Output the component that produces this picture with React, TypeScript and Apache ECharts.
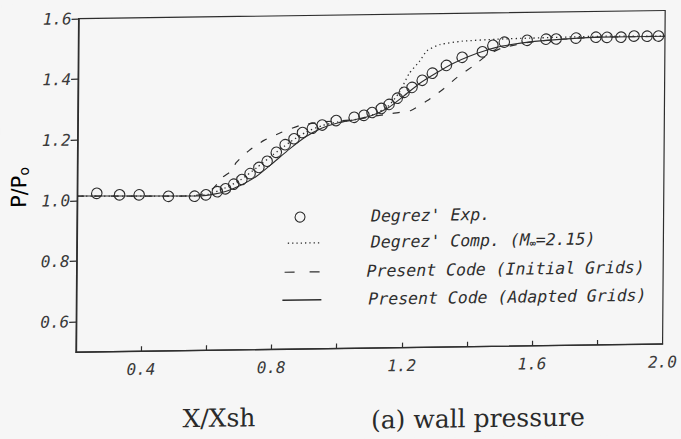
import React, { useEffect, useRef } from "react";
import * as echarts from "echarts";

// Degrez' experiment (circles)
const expX = [0.26, 0.33, 0.39, 0.48, 0.56, 0.595, 0.63, 0.655, 0.68, 0.705, 0.73, 0.757, 0.782, 0.81, 0.837, 0.864, 0.89, 0.92, 0.95, 0.993, 1.048, 1.078, 1.103, 1.131, 1.155, 1.18, 1.201, 1.225, 1.256, 1.287, 1.33, 1.378, 1.44, 1.472, 1.507, 1.577, 1.635, 1.666, 1.727, 1.788, 1.822, 1.865, 1.905, 1.945, 1.98];
const expY = [1.023, 1.017, 1.016, 1.01, 1.009, 1.013, 1.023, 1.032, 1.047, 1.062, 1.081, 1.101, 1.121, 1.15, 1.175, 1.194, 1.214, 1.228, 1.238, 1.252, 1.262, 1.268, 1.277, 1.29, 1.303, 1.323, 1.342, 1.358, 1.381, 1.404, 1.429, 1.455, 1.472, 1.493, 1.503, 1.508, 1.511, 1.511, 1.513, 1.515, 1.514, 1.514, 1.517, 1.516, 1.516];

// Degrez' computation (dotted)
const compX = [0.2, 0.55, 0.6, 0.65, 0.7, 0.75, 0.8, 0.85, 0.9, 0.95, 1.0, 1.05, 1.1, 1.15, 1.186, 1.216, 1.247, 1.27, 1.31, 1.378, 1.483, 1.584, 1.8, 2.0];
const compY = [1.015, 1.01, 1.014, 1.033, 1.06, 1.1, 1.142, 1.182, 1.215, 1.236, 1.248, 1.254, 1.267, 1.295, 1.342, 1.404, 1.443, 1.478, 1.498, 1.508, 1.513, 1.515, 1.518, 1.515];

// Present code, initial grids (dashed)
const initX = [0.2, 0.55, 0.6, 0.625, 0.644, 0.674, 0.687, 0.726, 0.772, 0.824, 0.88, 0.95, 1.05, 1.1, 1.164, 1.222, 1.271, 1.323, 1.363, 1.415, 1.455, 1.498, 1.6, 1.8, 2.0];
const initY = [1.015, 1.01, 1.02, 1.043, 1.069, 1.092, 1.118, 1.157, 1.19, 1.215, 1.237, 1.248, 1.254, 1.263, 1.273, 1.282, 1.313, 1.353, 1.389, 1.428, 1.461, 1.483, 1.504, 1.515, 1.515];

// Present code, adapted grids (solid)
const adaptX = [0.2, 0.58, 0.62, 0.66, 0.7, 0.75, 0.8, 0.85, 0.9, 0.95, 1.0, 1.05, 1.1, 1.15, 1.2, 1.25, 1.3, 1.35, 1.4, 1.45, 1.5, 1.6, 1.7, 1.8, 2.0];
const adaptY = [1.015, 1.01, 1.015, 1.025, 1.042, 1.072, 1.115, 1.16, 1.2, 1.228, 1.245, 1.254, 1.266, 1.29, 1.33, 1.372, 1.405, 1.435, 1.458, 1.476, 1.49, 1.504, 1.511, 1.515, 1.515];

const xTickValues = [0.4, 0.6, 0.8, 1.0, 1.2, 1.4, 1.6, 1.8];
const xLabelValues = [0.4, 0.8, 1.2, 1.6, 2.0];
const yTickValues = [0.6, 0.8, 1.0, 1.2, 1.4, 1.6];

const legendNames = [
  "Degrez' Exp.",
  "Degrez' Comp. (M",
  "Present Code (Initial Grids)",
  "Present Code (Adapted Grids)",
];

const pairs = (xs: number[], ys: number[]) => xs.map((x, i) => [x, ys[i]]);

const INK = "#2e2e2e";
const BG = "#f6f6f6";
const MONO = '"DejaVu Sans Mono", monospace';

export default function App() {
  const ref = useRef<HTMLDivElement>(null);

  useEffect(() => {
    document.body.style.margin = "0";
    document.body.style.background = BG;
    const chart = echarts.init(ref.current!, null, { renderer: "svg" });
    const legendFont = `italic 16.5px ${MONO}`;
    chart.setOption({
      animation: false,
      backgroundColor: BG,
      grid: {
        left: 77,
        right: 14.5,
        top: 15,
        bottom: 90.5,
        show: true,
        borderColor: INK,
        borderWidth: 1.2,
        backgroundColor: "transparent",
      },
      xAxis: {
        type: "value",
        min: 0.2,
        max: 2.0,
        splitLine: { show: false },
        axisLine: { show: true, lineStyle: { color: INK, width: 1.4 } },
        axisTick: {
          show: true,
          inside: true,
          length: 5,
          customValues: xTickValues,
          lineStyle: { color: INK, width: 1.2 },
        },
        axisLabel: {
          customValues: xLabelValues,
          showMaxLabel: true,
          margin: 10,
          formatter: (v: number) => v.toFixed(1),
          fontFamily: MONO,
          fontStyle: "italic",
          fontSize: 16,
          color: "#3a3a3a",
        },
      },
      yAxis: {
        type: "value",
        min: 0.5,
        max: 1.6,
        splitLine: { show: false },
        axisLine: { show: true, lineStyle: { color: INK, width: 1.4 } },
        axisTick: {
          show: true,
          inside: false,
          length: 7,
          customValues: yTickValues,
          lineStyle: { color: INK, width: 1.2 },
        },
        axisLabel: {
          customValues: yTickValues,
          showMaxLabel: true,
          margin: 7,
          formatter: (v: number) => v.toFixed(1),
          fontFamily: MONO,
          fontStyle: "italic",
          fontSize: 16,
          color: "#3a3a3a",
        },
      },
      series: [
        {
          name: legendNames[1],
          type: "line",
          data: pairs(compX, compY),
          symbol: "none",
          smooth: 0.2,
          lineStyle: { color: INK, width: 1.3, type: [1.3, 3.2] },
        },
        {
          name: legendNames[2],
          type: "line",
          data: pairs(initX, initY),
          symbol: "none",
          smooth: 0.2,
          lineStyle: { color: INK, width: 1.2, type: [7, 10] },
        },
        {
          name: legendNames[3],
          type: "line",
          data: pairs(adaptX, adaptY),
          symbol: "none",
          smooth: 0.2,
          lineStyle: { color: INK, width: 1.1 },
        },
        {
          name: legendNames[0],
          type: "scatter",
          data: pairs(expX, expY),
          symbol: "circle",
          symbolSize: 10.5,
          itemStyle: { color: "rgba(0,0,0,0)", borderColor: INK, borderWidth: 1.1, opacity: 1 },
          z: 5,
        },
      ],
      graphic: [
        // legend keys
        { type: "circle", shape: { cx: 300, cy: 216.5, r: 5 }, style: { fill: "none", stroke: INK, lineWidth: 1.1 } },
        { type: "line", shape: { x1: 288, y1: 242.5, x2: 322, y2: 242.5 }, style: { stroke: INK, lineWidth: 1.3, lineDash: [1.3, 3] } },
        { type: "line", shape: { x1: 285, y1: 271.5, x2: 321, y2: 271.5 }, style: { stroke: INK, lineWidth: 1.2, lineDash: [10, 15] } },
        { type: "line", shape: { x1: 283, y1: 299.5, x2: 322, y2: 299.5 }, style: { stroke: INK, lineWidth: 1.4 } },
        // legend texts
        { type: "text", x: 371, y: 216.5, style: { text: legendNames[0], font: legendFont, fill: INK, align: "left", verticalAlign: "middle", textAlign: "left", textVerticalAlign: "middle" } },
        {
          type: "text",
          x: 371,
          y: 242.5,
          style: {
            text: `{a|${legendNames[1]}}{s|∞}{a|=2.15)}`,
            rich: {
              a: { font: legendFont, fill: INK, color: INK },
              s: { fontFamily: MONO, fontSize: 10, fontWeight: "bold", color: INK, padding: [7, 0, 0, 0] },
            },
            fill: INK,
            align: "left",
            verticalAlign: "middle",
            textAlign: "left",
            textVerticalAlign: "middle",
          },
        },
        { type: "text", x: 367, y: 271.5, style: { text: legendNames[2], font: legendFont, fill: INK, align: "left", verticalAlign: "middle", textAlign: "left", textVerticalAlign: "middle" } },
        { type: "text", x: 369, y: 299.5, style: { text: legendNames[3], font: legendFont, fill: INK, align: "left", verticalAlign: "middle", textAlign: "left", textVerticalAlign: "middle" } },
        // y-axis title
        {
          type: "text",
          x: 19,
          y: 183,
          rotation: Math.PI / 2,
          style: {
            text: "{a|P/P}{b|o}",
            rich: {
              a: { fontFamily: '"DejaVu Sans", sans-serif', fontSize: 21, color: "#3a3a3a" },
              b: { fontFamily: '"DejaVu Sans", sans-serif', fontSize: 14, color: "#3a3a3a", padding: [9, 0, 0, 0] },
            },
            align: "center",
            verticalAlign: "middle",
            textAlign: "center",
            textVerticalAlign: "middle",
          },
        },
        // captions
        { type: "text", x: 220.5, y: 416.5, style: { text: "X/Xsh", font: '25px "DejaVu Serif", serif', fill: "#2a2a2a", align: "center", verticalAlign: "middle", textAlign: "center", textVerticalAlign: "middle" } },
        { type: "text", x: 479.5, y: 420.5, style: { text: "(a) wall pressure", font: '25px "DejaVu Serif", serif', fill: "#2a2a2a", align: "center", verticalAlign: "middle", textAlign: "center", textVerticalAlign: "middle" } },
      ],
    });
    return () => chart.dispose();
  }, []);

  return (
    <div
      ref={ref}
      style={{
        position: "absolute",
        left: 0,
        top: 0,
        width: 681,
        height: 439,
        background: BG,
        transform: "skewX(-0.45deg) skewY(-0.8deg)",
        transformOrigin: "340.5px 219.5px",
      }}
    />
  );
}
